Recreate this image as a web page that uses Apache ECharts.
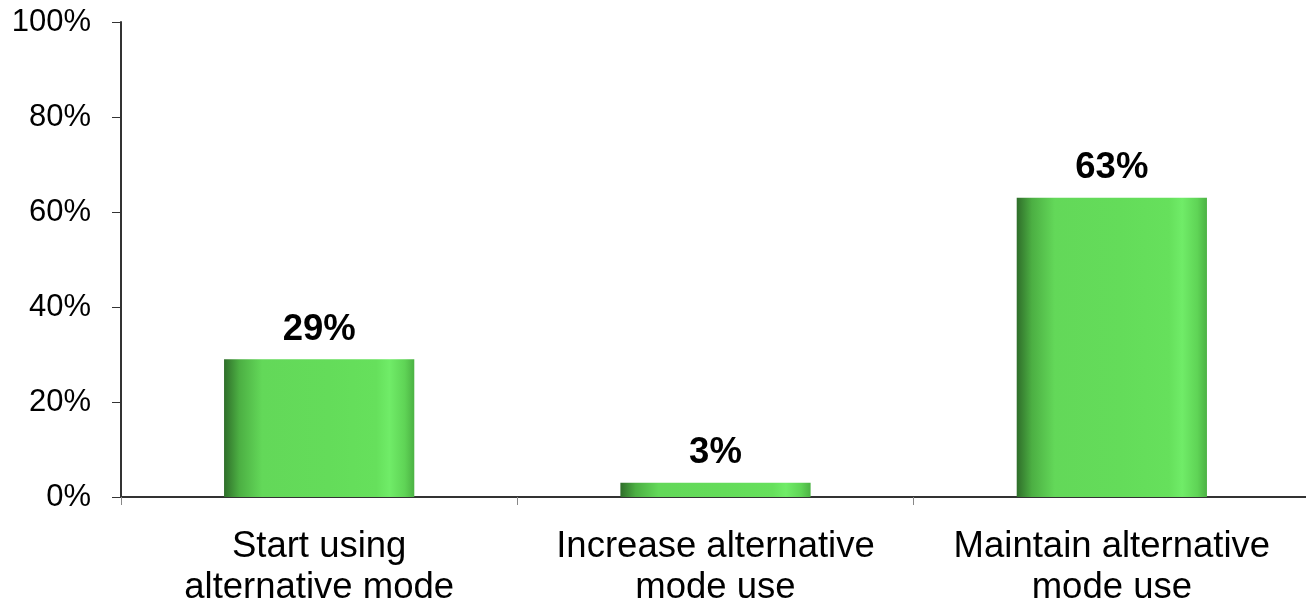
<!DOCTYPE html>
<html>
<head>
<meta charset="utf-8">
<script src="https://cdn.jsdelivr.net/npm/echarts@6/dist/echarts.min.js"></script>
<style>
  html, body { margin: 0; padding: 0; background: #fff; }
  #chart { width: 1306px; height: 599px; }
</style>
</head>
<body>
<div id="chart"></div>
<script>
// Share of respondents by intended change in travel mode
const categories = ['Start using\nalternative mode', 'Increase alternative\nmode use', 'Maintain alternative\nmode use'];
const values = [29, 3, 63];
const yTicks = [0, 20, 40, 60, 80, 100];

// Cylinder-like shading across each bar
const barFill = new echarts.graphic.LinearGradient(0, 0, 1, 0, [
  { offset: 0, color: '#2f6e2a' },
  { offset: 0.08, color: '#4caf43' },
  { offset: 0.2, color: '#63d859' },
  { offset: 0.55, color: '#64dc5a' },
  { offset: 0.8, color: '#66e05c' },
  { offset: 0.87, color: '#70ec68' },
  { offset: 0.95, color: '#5fd456' },
  { offset: 1, color: '#4cb244' }
]);

const chart = echarts.init(document.getElementById('chart'));
chart.setOption({
  animation: false,
  grid: {
    left: 121, width: 1189, top: 22, height: 475,
    containLabel: false,
    outerBoundsMode: 'none'
  },
  xAxis: {
    type: 'category',
    data: categories,
    axisLine: { lineStyle: { color: '#333', width: 2 } },
    axisTick: { show: true, length: 8, lineStyle: { color: '#888' } },
    axisLabel: {
      color: '#000',
      fontFamily: 'Liberation Sans, Arial, sans-serif',
      fontSize: 36.5,
      lineHeight: 41,
      margin: 29,
      interval: 0,
      hideOverlap: false
    }
  },
  yAxis: {
    type: 'value',
    min: 0,
    max: 100,
    interval: 20,
    axisLine: { show: true, lineStyle: { color: '#333', width: 2 } },
    axisTick: { show: true, inside: false, length: 9, lineStyle: { color: '#333' } },
    splitLine: { show: false },
    axisLabel: {
      color: '#000',
      fontFamily: 'Liberation Sans, Arial, sans-serif',
      fontSize: 31,
      margin: 30,
      formatter: v => yTicks.includes(v) ? v + '%' : ''
    }
  },
  series: [{
    type: 'bar',
    data: values,
    barWidth: '48%',
    itemStyle: { color: barFill },
    label: {
      show: true,
      position: 'top',
      distance: 11,
      color: '#000',
      fontFamily: 'Liberation Sans, Arial, sans-serif',
      fontWeight: 'bold',
      fontSize: 36.5,
      formatter: p => p.value + '%'
    }
  }]
});
</script>
</body>
</html>
